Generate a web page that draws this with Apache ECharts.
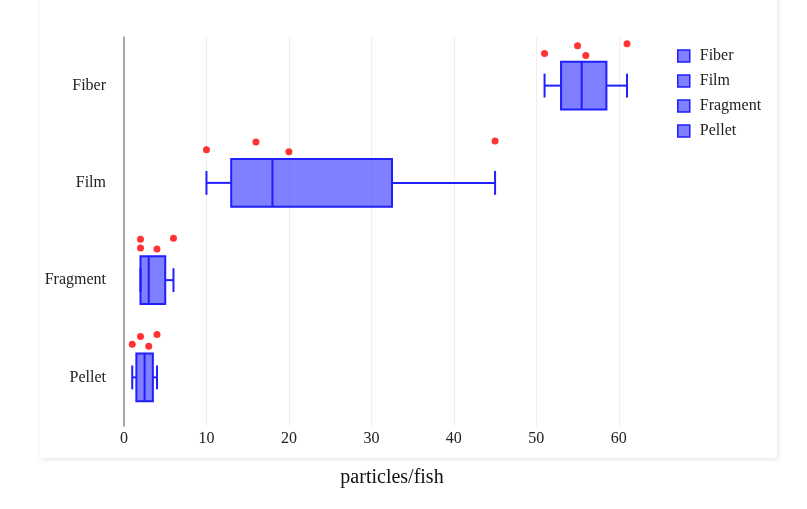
<!DOCTYPE html>
<html>
<head>
<meta charset="utf-8">
<script src="https://cdn.jsdelivr.net/npm/echarts@6/dist/echarts.min.js"></script>
<style>
  html, body { margin: 0; padding: 0; background: #fff; }
  #chart { width: 807px; height: 509px; }
</style>
</head>
<body>
<div id="chart"></div>
<script>
// categories, top to bottom
var categories = ['Fiber', 'Film', 'Fragment', 'Pellet'];

// raw points (particles/fish)
var fiberPts = [51, 55, 56, 61];
var filmPts = [10, 16, 20, 45];
var fragmentPts = [2, 2, 4, 6];
var pelletPts = [1, 2, 3, 4];

// box stats: min, q1, median, q3, max
var fiberBox = [51, 53, 55.5, 58.5, 61];
var filmBox = [10, 13, 18, 32.5, 45];
var fragmentBox = [2, 2, 3, 5, 6];
var pelletBox = [1, 1.5, 2.5, 3.5, 4];

// vertical jitter of the points above each box (in category units)
var fiberJit = [0.33, 0.41, 0.31, 0.43];
var filmJit = [0.34, 0.42, 0.32, 0.43];
var fragmentJit = [0.42, 0.33, 0.32, 0.43];
var pelletJit = [0.34, 0.42, 0.32, 0.44];

var xTicks = [0, 10, 20, 30, 40, 50, 60];

var allPts = [fiberPts, filmPts, fragmentPts, pelletPts];
var allBox = [fiberBox, filmBox, fragmentBox, pelletBox];
var allJit = [fiberJit, filmJit, fragmentJit, pelletJit];

var boxFill = 'rgba(0, 0, 255, 0.5)';
var boxEdge = '#1f1fff';
var serif = 'Liberation Serif';

function renderBox(params, api) {
    var cat = api.value(0);
    var lo = api.coord([api.value(1), cat]);
    var q1 = api.coord([api.value(2), cat]);
    var md = api.coord([api.value(3), cat]);
    var q3 = api.coord([api.value(4), cat]);
    var hi = api.coord([api.value(5), cat]);
    var band = api.size([0, 1])[1];
    var h = band * 0.49;
    var cap = h / 2;
    var y = lo[1];
    var ln = { stroke: boxEdge, lineWidth: 2, fill: null };
    return {
        type: 'group',
        children: [
            { type: 'line', shape: { x1: lo[0], y1: y, x2: q1[0], y2: y }, style: ln },
            { type: 'line', shape: { x1: q3[0], y1: y, x2: hi[0], y2: y }, style: ln },
            { type: 'line', shape: { x1: lo[0], y1: y - cap / 2, x2: lo[0], y2: y + cap / 2 }, style: ln },
            { type: 'line', shape: { x1: hi[0], y1: y - cap / 2, x2: hi[0], y2: y + cap / 2 }, style: ln },
            { type: 'rect', shape: { x: q1[0], y: y - h / 2, width: q3[0] - q1[0], height: h },
              style: { fill: boxFill, stroke: boxEdge, lineWidth: 2 } },
            { type: 'line', shape: { x1: md[0], y1: y - h / 2, x2: md[0], y2: y + h / 2 }, style: ln }
        ]
    };
}

var series = [];
for (var i = 0; i < categories.length; i++) {
    series.push({
        name: categories[i],
        type: 'custom',
        renderItem: renderBox,
        itemStyle: { color: boxFill, borderColor: boxEdge, borderWidth: 1.5 },
        encode: { x: [1, 2, 3, 4, 5], y: 0 },
        data: [[categories[i]].concat(allBox[i])],
        z: 3
    });
}
for (var j = 0; j < categories.length; j++) {
    var pts = [];
    for (var k = 0; k < allPts[j].length; k++) {
        pts.push([allPts[j][k], j + 0.5 - allJit[j][k]]);
    }
    series.push({
        name: categories[j] + ' points',
        type: 'scatter',
        yAxisIndex: 1,
        symbolSize: 7,
        itemStyle: { color: '#ff0000' },
        data: pts,
        silent: true,
        z: 4
    });
}

var myChart = echarts.init(document.getElementById('chart'));

option = {
    backgroundColor: '#fff',
    animation: false,
    graphic: [{
        type: 'rect',
        z: -10,
        shape: { x: 40, y: -10, width: 737, height: 468 },
        style: { fill: '#fff', shadowBlur: 5, shadowColor: 'rgba(0,0,0,0.12)', shadowOffsetX: 1, shadowOffsetY: 1 }
    }],
    grid: { left: 124, right: 147, top: 37, bottom: 83 },
    legend: {
        orient: 'vertical',
        left: 672,
        top: 43,
        itemWidth: 12,
        itemHeight: 12,
        itemGap: 9,
        icon: 'rect',
        textStyle: { fontFamily: serif, fontSize: 16, color: '#222', padding: [0, 0, 0, 5] },
        data: categories.map(function (c) {
            return { name: c, itemStyle: { color: boxFill, borderColor: boxEdge, borderWidth: 1.5 } };
        })
    },
    xAxis: {
        type: 'value',
        min: 0,
        max: 65,
        interval: 10,
        name: 'particles/fish',
        nameLocation: 'middle',
        nameGap: 42,
        nameTextStyle: { fontFamily: serif, fontSize: 20, color: '#111' },
        axisLine: { show: false },
        axisTick: { show: false },
        splitLine: { show: true, showMinLine: false, showMaxLine: false, lineStyle: { color: '#eeeeee', width: 1 } },
        axisLabel: {
            fontFamily: serif, fontSize: 16, color: '#222', margin: 5,
            formatter: function (v) { return xTicks.indexOf(v) >= 0 ? String(v) : ''; }
        }
    },
    yAxis: [{
        type: 'category',
        data: categories,
        inverse: true,
        axisLine: { show: true, lineStyle: { color: '#888', width: 1.5 } },
        axisTick: { show: false },
        splitLine: { show: false },
        axisLabel: { fontFamily: serif, fontSize: 16, color: '#222', margin: 18 }
    }, {
        type: 'value',
        min: 0,
        max: 4,
        inverse: true,
        show: false,
        splitLine: { show: false }
    }],
    series: series
};

myChart.setOption(option);
</script>
</body>
</html>
